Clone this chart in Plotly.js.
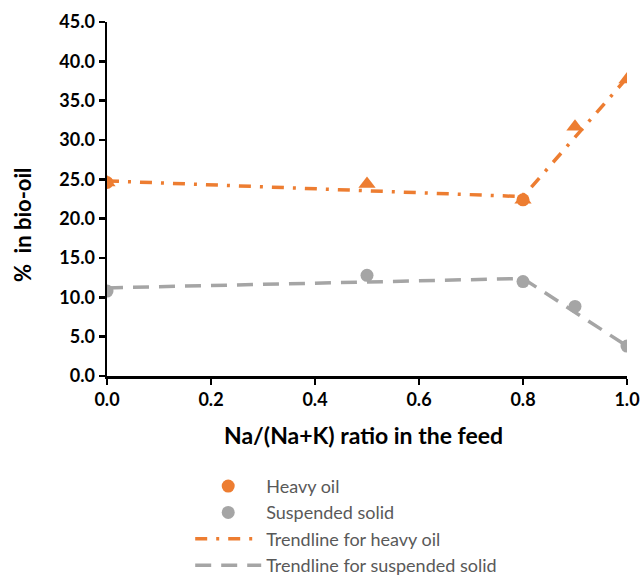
<!DOCTYPE html>
<html><head><meta charset="utf-8">
<script src="https://cdn.plot.ly/plotly-3.0.1.min.js"></script>
<style>html,body{margin:0;padding:0;background:#fff}</style>
</head><body><div id="chart" style="width:643px;height:579px"></div>
<script>
const xRatio = [0, 0.5, 0.8, 0.9, 1.0];
const heavyOil = [24.6, 24.4, 22.4, 31.7, 37.7];
const suspendedSolid = [10.8, 12.8, 12.0, 8.85, 3.8];
const heavyCircleX = [0, 0.8];
const heavyCircleY = [24.6, 22.4];
const trendX = [0, 0.8, 1.0];
const trendHeavy = [24.8, 22.8, 37.9];
const trendSolid = [11.2, 12.4, 3.8];
const xTicks = [0, 0.2, 0.4, 0.6, 0.8, 1.0];
const yTicks = [0, 5, 10, 15, 20, 25, 30, 35, 40, 45];
const xTitle = 'Na/(Na+K) ratio in the feed';
const yTitle = '%  in bio-oil';

const orange = '#ED7D31', grey = '#A5A5A5';
const traces = [
  {x: trendX, y: trendHeavy, mode: 'lines', name: 'Trendline for heavy oil', legendrank: 3, legendgroup: 'c',
   line: {color: orange, width: 3.5, dash: '12px,9px,3px,9px'}},
  {x: trendX, y: trendSolid, mode: 'lines', name: 'Trendline for suspended solid', legendrank: 4, legendgroup: 'd',
   line: {color: grey, width: 3.5, dash: '16px,10px'}},
  {x: xRatio, y: heavyOil, mode: 'markers', showlegend: false, hoverinfo: 'skip',
   marker: {symbol: 'triangle-up', size: 15, color: orange}},
  {x: heavyCircleX, y: heavyCircleY, mode: 'markers', name: 'Heavy oil', legendrank: 1, legendgroup: 'a',
   marker: {symbol: 'circle', size: 13, color: orange}},
  {x: xRatio, y: suspendedSolid, mode: 'markers', name: 'Suspended solid', legendrank: 2, legendgroup: 'b',
   marker: {symbol: 'circle', size: 13, color: grey}}
];
const axisCommon = {showgrid: false, zeroline: false, showline: true, linecolor: '#000', linewidth: 2.5,
  ticks: 'outside', ticklen: 6, tickwidth: 2.5, tickcolor: '#000',
  tickfont: {size: 18, family: 'Lato', weight: 'bold', color: '#000'}};
const layout = {
  width: 643, height: 579,
  margin: {l: 107, r: 16, t: 21.5, b: 202.5, autoexpand: false},
  paper_bgcolor: '#fff', plot_bgcolor: '#fff',
  font: {family: 'Lato, "Open Sans", sans-serif', color: '#000'},
  xaxis: Object.assign({range: [0, 1.0], tickvals: xTicks, ticktext: xTicks.map(v => v.toFixed(1))}, axisCommon),
  yaxis: Object.assign({range: [0, 45], tickvals: yTicks, ticktext: yTicks.map(v => v.toFixed(1))}, axisCommon),
  annotations: [
    {text: '<b>' + xTitle + '</b>', xref: 'paper', yref: 'paper', x: 0.494, y: -0.168, xanchor: 'center', yanchor: 'middle',
     showarrow: false, font: {size: 23, family: 'Lato', color: '#000'}},
    {text: '<b>' + yTitle + '</b>', xref: 'paper', yref: 'paper', x: -0.161, y: 0.427, xanchor: 'center', yanchor: 'middle',
     textangle: -90, showarrow: false, font: {size: 22, family: 'Lato', color: '#000'}}
  ],
  showlegend: true,
  legend: {x: 0.16, xanchor: 'left', y: -0.2595, yanchor: 'top', traceorder: 'grouped', tracegroupgap: 0,
    itemwidth: 66,
    font: {size: 18, family: 'Lato', color: '#595959'}, bgcolor: 'rgba(0,0,0,0)'}
};
Plotly.newPlot('chart', traces, layout, {displayModeBar: false, staticPlot: true});
</script></body></html>
